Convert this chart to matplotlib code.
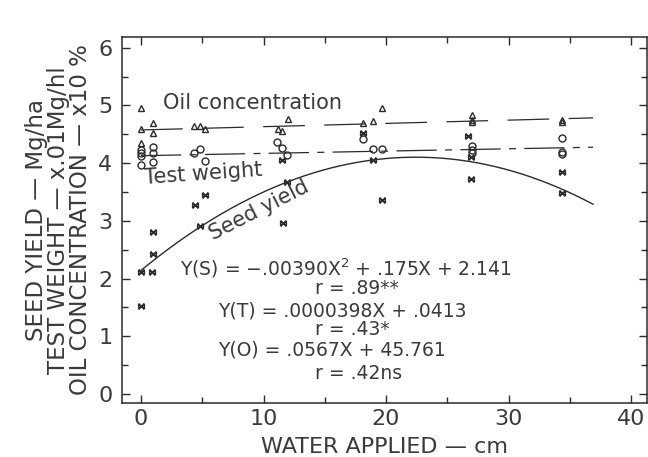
import numpy as np
import matplotlib
matplotlib.use("Agg")
import matplotlib.pyplot as plt
from matplotlib.path import Path
from matplotlib.ticker import MultipleLocator

plt.rcParams['font.family'] = ['DejaVu Sans']
plt.rcParams['lines.scale_dashes'] = False

# ---- data ----
oil_x = [0, 0, 0, 1, 1, 4.3, 4.8, 5.2, 11.2, 11.5, 12, 18.1, 18.9, 19.7, 27, 27, 27, 34.4, 34.4]
oil_y = [4.95, 4.60, 4.35, 4.70, 4.52, 4.64, 4.65, 4.60, 4.60, 4.56, 4.76, 4.69, 4.73, 4.96,
         4.83, 4.75, 4.71, 4.75, 4.72]

tw_x = [0, 0, 0, 0, 1, 1, 1, 4.3, 4.8, 5.2, 11.1, 11.5, 11.9, 18.1, 18.9, 19.7, 27, 27, 27,
        34.4, 34.4, 34.4]
tw_y = [4.23, 4.18, 4.12, 3.97, 4.28, 4.17, 4.02, 4.18, 4.25, 4.04, 4.37, 4.26, 4.14, 4.42,
        4.25, 4.25, 4.30, 4.23, 4.18, 4.43, 4.19, 4.16]

sy_x = [0, 0, 0.9, 1, 1, 4.4, 4.8, 5.2, 11.5, 11.6, 11.9, 18.1, 18.9, 19.7, 26.7, 26.9, 26.9,
        34.4, 34.4]
sy_y = [2.11, 1.52, 2.11, 2.43, 2.80, 3.28, 2.91, 3.45, 4.05, 2.96, 3.67, 4.52, 4.05, 3.36,
        4.47, 4.11, 3.73, 3.85, 3.48]

# regression coefficients (from the equations printed on the chart)
seed_coef = [-0.00390, 0.175, 2.141]      # Mg/ha
tw_coef = [0.0000398, 0.0413]              # Mg/hl  (plotted x100)
oil_coef = [0.0567, 45.761]                # %      (plotted /10)
fit_xmax = 36.9

xticks = [0, 10, 20, 30, 40]
yticks = [0, 1, 2, 3, 4, 5, 6]

eq_lines = ["Y(S) = \u2212.00390X$^2$ + .175X + 2.141", "r = .89**",
            "Y(T) = .0000398X + .0413", "r = .43*",
            "Y(O) = .0567X + 45.761", "r = .42ns"]

# ---- drawing ----
ink = '#2b2b2b'
txt = '#3a3a3a'

fig = plt.figure(figsize=(6.48, 4.57), dpi=100)
ax = fig.add_axes([122/648, 1-403/457, (647-122)/648, (403-37)/457])

xx = np.linspace(0, fit_xmax, 200)
ax.plot(xx, np.polyval(seed_coef, xx), color=ink, lw=1.0)
ax.plot(xx, 100*np.polyval(tw_coef, xx), color=ink, lw=0.9, dashes=(29, 6, 5, 6))
ax.plot(xx, np.polyval(oil_coef, xx)/10, color=ink, lw=0.9, dashes=(30, 14))

bowtie = Path([(-1, -1), (-1, 1), (-1, -1), (1, 1), (1, 1), (1, -1), (1, -1), (-1, 1)],
              [Path.MOVETO, Path.LINETO, Path.MOVETO, Path.LINETO,
               Path.MOVETO, Path.LINETO, Path.MOVETO, Path.LINETO])

ax.plot(oil_x, oil_y, linestyle='none', marker='^', ms=5, mfc='none', mec=ink, mew=1.0)
ax.plot(tw_x, tw_y, linestyle='none', marker='o', ms=5, mfc='none', mec=ink, mew=1.0)
ax.plot(sy_x, sy_y, linestyle='none', marker=bowtie, ms=4, mfc='none', mec=ink, mew=1.2)

ax.set_xlim(-1.55, 41.3)
ax.set_ylim(-0.156, 6.187)
ax.set_xticks(xticks)
ax.set_yticks(yticks)
ax.xaxis.set_minor_locator(MultipleLocator(5))
ax.yaxis.set_minor_locator(MultipleLocator(0.5))
ax.tick_params(which='both', direction='in', top=True, right=True, color=ink, width=1.0)
ax.tick_params(which='major', length=6)
ax.tick_params(which='minor', length=4)
ax.tick_params(axis='y', which='major', labelsize=16, labelcolor=txt, pad=7)
ax.tick_params(axis='x', which='major', labelsize=16, labelcolor=txt, pad=4)
for s in ax.spines.values():
    s.set_color(ink)
    s.set_linewidth(1.1)

ax.set_xlabel("WATER APPLIED \u2014 cm", fontsize=16, color=txt, labelpad=6)
ax.set_ylabel("SEED YIELD \u2014 Mg/ha\nTEST WEIGHT \u2014 x.01Mg/hl\nOIL CONCENTRATION \u2014 x10 %",
              fontsize=16.5, color=txt, linespacing=0.95, labelpad=4)

ax.text(1.8, 5.04, "Oil concentration", fontsize=15, color=txt, ha='left', va='center')
ax.text(0.3, 3.74, "Test weight", fontsize=15, color=txt, ha='left', va='center', rotation=4,
        rotation_mode='anchor')
ax.text(9.6, 3.19, "Seed yield", fontsize=15, color=txt, ha='center', va='center', rotation=27,
        rotation_mode='anchor')

eq_pos = [(3.2, 2.18), (14.2, 1.82), (6.3, 1.44), (14.2, 1.12), (6.3, 0.76), (14.2, 0.36)]
for (ex, ey), s in zip(eq_pos, eq_lines):
    ax.text(ex, ey, s, fontsize=13.5, color=txt, ha='left', va='center')

fig.savefig("out.png", dpi=100)
